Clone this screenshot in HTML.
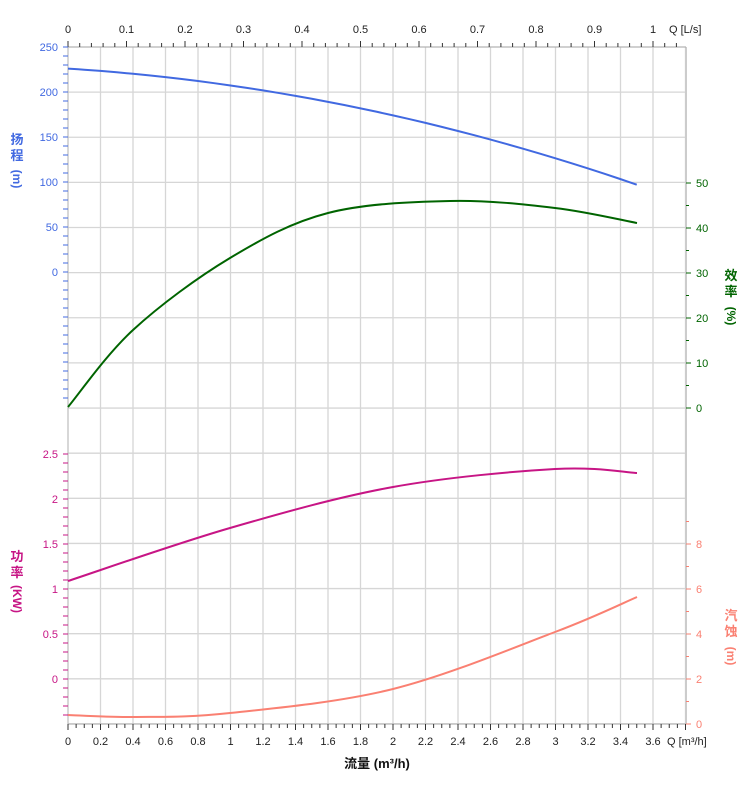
<!DOCTYPE html>
<html><head><meta charset="utf-8"><style>
html,body{margin:0;padding:0;background:#fff;}
svg{display:block;font-family:"Liberation Sans","Noto Sans CJK SC",sans-serif;}
</style></head><body>
<svg id="c" width="752" height="797" xmlns="http://www.w3.org/2000/svg"></svg>
<script>
const s=document.getElementById('c');let h='';
const X=q=>68+q*162.5;
const T=47,B=724,R=686;
for(let k=0;k<=19;k++){const x=68+k*32.5;h+=`<line x1="${x}" y1="${T}" x2="${x}" y2="${B}" stroke="#d6d6d6" stroke-width="1.3"/>`;}
for(let k=0;k<=15;k++){const y=T+k*45.13;h+=`<line x1="68" y1="${y}" x2="${R}" y2="${y}" stroke="#d6d6d6" stroke-width="1.3"/>`;}
h+=`<line x1="68" y1="${T}" x2="68" y2="${B}" stroke="#bbb"/>`;
h+=`<line x1="${R}" y1="${T}" x2="${R}" y2="${B}" stroke="#ccc" stroke-width="2"/>`;
h+=`<line x1="68" y1="${B}" x2="${R}" y2="${B}" stroke="#aaa"/>`;
h+=`<line x1="68" y1="${T}" x2="${R}" y2="${T}" stroke="#aaa"/>`;
for(let i=0;i<=76;i++){const x=68+i*8.125;h+=`<line x1="${x}" y1="${B}" x2="${x}" y2="${B+(i%4==0?6:4)}" stroke="#333"/>`;}
for(let i=0;i<=18;i++){const v=(i*0.2);h+=`<text x="${X(v)}" y="745" font-size="11" text-anchor="middle" fill="#222">${+v.toFixed(1)}</text>`;}
h+=`<text x="667" y="745" font-size="11" fill="#222">Q [m³/h]</text>`;
h+=`<text x="377" y="768" font-size="13" font-weight="bold" text-anchor="middle" fill="#111">流量 (m³/h)</text>`;
for(let i=0;i<=52;i++){const x=68+i*11.7;if(x>R)break;h+=`<line x1="${x}" y1="${T}" x2="${x}" y2="${T-(i%5==0?6:4)}" stroke="#333"/>`;}
for(let i=0;i<=10;i++){h+=`<text x="${68+i*58.5}" y="33" font-size="11" text-anchor="middle" fill="#222">${i==10?1:(i/10)}</text>`;}
h+=`<text x="669" y="33" font-size="11" fill="#222">Q [L/s]</text>`;
for(let v=0;v<=250;v+=10){const y=272-v*0.9;h+=`<line x1="63" y1="${y}" x2="68" y2="${y}" stroke="#4169e1"/>`;if(v%50==0)h+=`<text x="58" y="${y+4}" font-size="11" text-anchor="end" fill="#4169e1">${v}</text>`;}
for(let y=281;y<=404;y+=9)h+=`<line x1="63" y1="${y}" x2="68" y2="${y}" stroke="#4169e1"/>`;
h+=`<text x="17" y="144" font-size="13" font-weight="bold" text-anchor="middle" fill="#4169e1">扬</text><text x="17" y="160" font-size="13" font-weight="bold" text-anchor="middle" fill="#4169e1">程</text><text x="17" y="183" font-size="12" font-weight="bold" text-anchor="middle" fill="#4169e1" transform="rotate(90 17 179)">(m)</text>`;
for(let v=-0.4;v<=2.51;v+=0.1){const y=679-v*90;h+=`<line x1="63" y1="${y}" x2="68" y2="${y}" stroke="#c71585"/>`;}
for(let v=0;v<=2.5;v+=0.5){const y=679-v*90;h+=`<text x="58" y="${y+4}" font-size="11" text-anchor="end" fill="#c71585">${+v.toFixed(1)}</text>`;}
h+=`<text x="17" y="561" font-size="13" font-weight="bold" text-anchor="middle" fill="#c71585">功</text><text x="17" y="577" font-size="13" font-weight="bold" text-anchor="middle" fill="#c71585">率</text><text x="17" y="603" font-size="12" font-weight="bold" text-anchor="middle" fill="#c71585" transform="rotate(90 17 599)">(KW)</text>`;
for(let v=0;v<=50;v+=5){const y=408-v*4.5;h+=`<line x1="${R}" y1="${y}" x2="${R+(v%10==0?5:3)}" y2="${y}" stroke="#006400"/>`;if(v%10==0)h+=`<text x="696" y="${y+4}" font-size="11" fill="#006400">${v}</text>`;}
h+=`<text x="731" y="280" font-size="13" font-weight="bold" text-anchor="middle" fill="#006400">效</text><text x="731" y="296" font-size="13" font-weight="bold" text-anchor="middle" fill="#006400">率</text><text x="731" y="320" font-size="12" font-weight="bold" text-anchor="middle" fill="#006400" transform="rotate(90 731 316)">(%)</text>`;
for(let v=0;v<=9.5;v+=1){const y=724-v*22.5;h+=`<line x1="${R}" y1="${y}" x2="${R+(v%2==0?5:3)}" y2="${y}" stroke="#fa8072"/>`;if(v%2==0&&v<=8)h+=`<text x="696" y="${y+4}" font-size="11" fill="#fa8072">${v}</text>`;}
h+=`<text x="731" y="620" font-size="13" font-weight="bold" text-anchor="middle" fill="#fa8072">汽</text><text x="731" y="636" font-size="13" font-weight="bold" text-anchor="middle" fill="#fa8072">蚀</text><text x="731" y="660" font-size="12" font-weight="bold" text-anchor="middle" fill="#fa8072" transform="rotate(90 731 656)">(m)</text>`;
function cr(p){let d=`M${p[0][0]},${p[0][1]}`;for(let i=0;i<p.length-1;i++){const a=p[Math.max(i-1,0)],b=p[i],c=p[i+1],e=p[Math.min(i+2,p.length-1)];d+=` C${b[0]+(c[0]-a[0])/6},${b[1]+(c[1]-a[1])/6} ${c[0]-(e[0]-b[0])/6},${c[1]-(e[1]-b[1])/6} ${c[0]},${c[1]}`;}return d;}
let hp=[];for(let q=0;q<=3.5001;q+=0.1){const H=226-7.24*q*q-11.5*q;hp.push([X(q),47+(250-H)*0.9]);}
h+=`<path d="${cr(hp)}" fill="none" stroke="#4169e1" stroke-width="2"/>`;
h+=`<path d="${cr([[68,407],[133,330],[230,258],[328,213],[450,201],[555,208],[637,223]])}" fill="none" stroke="#006400" stroke-width="2"/>`;
h+=`<path d="${cr([[68,581],[230,528],[393,487],[555,469],[637,473]])}" fill="none" stroke="#c71585" stroke-width="2"/>`;
h+=`<path d="${cr([[68,715],[133,717],[230,713],[393,689],[555,632],[637,597]])}" fill="none" stroke="#fa8072" stroke-width="2"/>`;
s.innerHTML=h;
</script>
</body></html>
